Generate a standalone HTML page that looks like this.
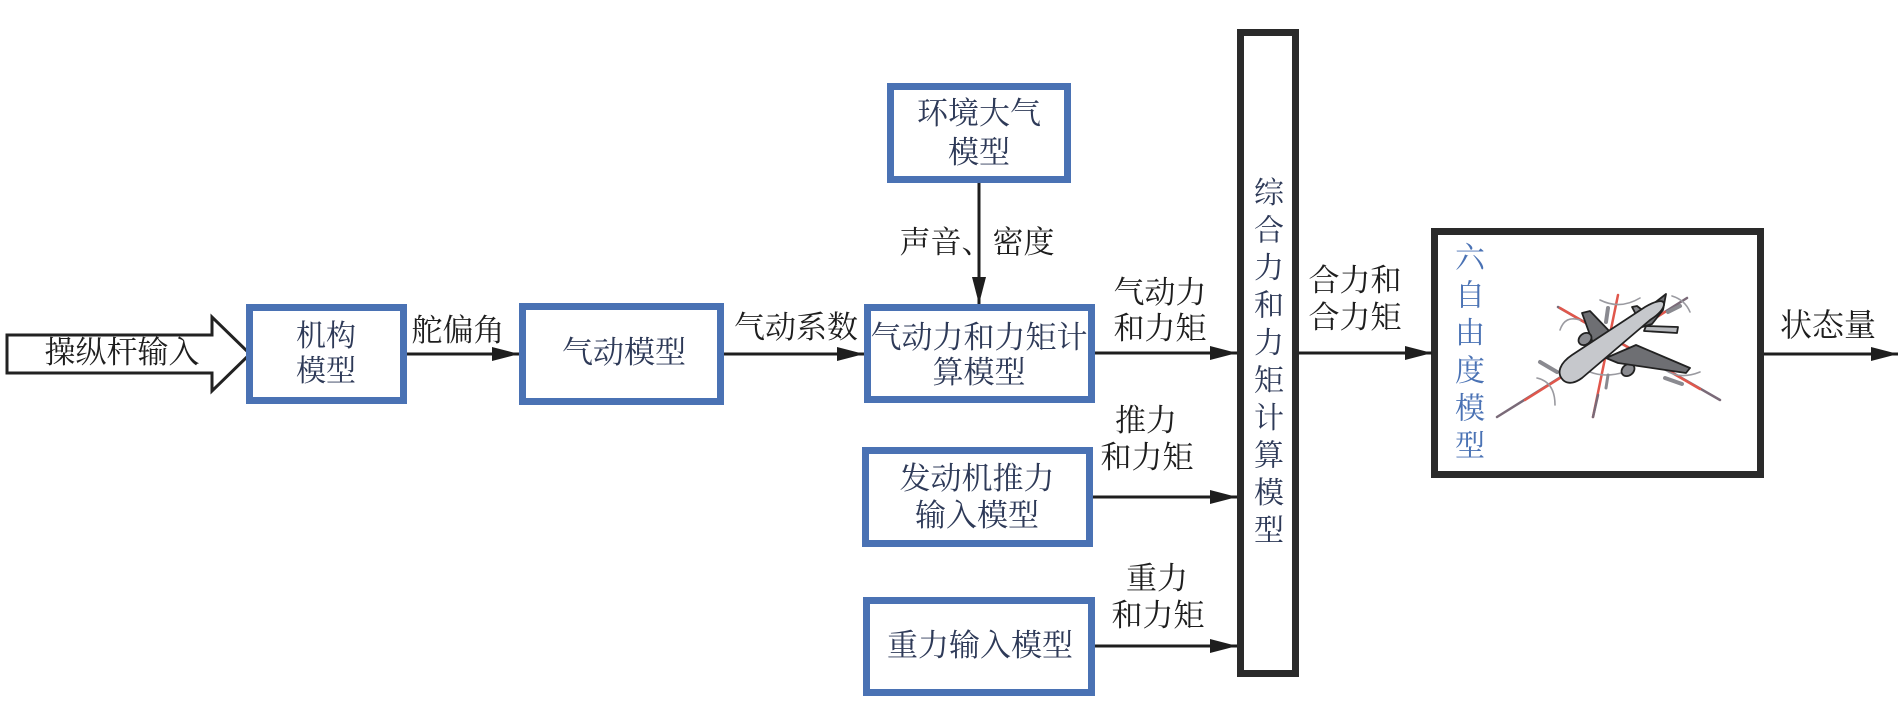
<!DOCTYPE html>
<html><head><meta charset="utf-8"><style>
html,body{margin:0;padding:0;background:#fff;}
svg{display:block;}
text{font-family:"Liberation Serif","Noto Serif CJK SC",serif;}
.n{fill:#2e3a58;}
.l{fill:#1e1e1e;}
</style></head><body>
<svg width="1901" height="724" viewBox="0 0 1901 724" xmlns="http://www.w3.org/2000/svg">
<rect width="1901" height="724" fill="#fff"/>
<defs>
<marker id="ah" markerWidth="27" markerHeight="14" refX="27" refY="7" orient="auto" markerUnits="userSpaceOnUse">
<path d="M0,0 L27,7 L0,14 Z" fill="#1e1e1e"/>
</marker>
</defs>

<!-- hollow input arrow -->
<path d="M7,335 L212,335 L212,317 L250,354 L212,391 L212,373 L7,373 Z" fill="#fff" stroke="#222" stroke-width="3" stroke-linejoin="miter"/>
<text x="122" y="363" font-size="31" text-anchor="middle" class="l">操纵杆输入</text>

<!-- blue boxes -->
<g fill="#fff" stroke="#4a72b4" stroke-width="7">
<rect x="249.5" y="307.5" width="154" height="93"/>
<rect x="522.5" y="306.5" width="198" height="95"/>
<rect x="890.5" y="86.5" width="177" height="93"/>
<rect x="867.5" y="307.5" width="224" height="92"/>
<rect x="865.5" y="450.5" width="224" height="93"/>
<rect x="866.5" y="600.5" width="225" height="92"/>
</g>
<!-- black boxes -->
<g fill="#fff" stroke="#2a2a2a" stroke-width="7">
<rect x="1240.5" y="32.5" width="55" height="641"/>
<rect x="1434.5" y="231.5" width="326" height="243"/>
</g>

<!-- arrows -->
<g stroke="#1e1e1e" stroke-width="3" fill="none" marker-end="url(#ah)">
<line x1="407" y1="354" x2="519" y2="354"/>
<line x1="724" y1="354" x2="864" y2="354"/>
<line x1="979" y1="183" x2="979" y2="304"/>
<line x1="1095" y1="353" x2="1237" y2="353"/>
<line x1="1093" y1="497" x2="1237" y2="497"/>
<line x1="1095" y1="646" x2="1237" y2="646"/>
<line x1="1299" y1="353" x2="1432" y2="353"/>
<line x1="1764" y1="354" x2="1898" y2="354"/>
</g>

<!-- box texts -->
<g class="n" text-anchor="middle">
<text x="326" y="346" font-size="30">机构</text>
<text x="326" y="381" font-size="30">模型</text>
<text x="624" y="363" font-size="31">气动模型</text>
<text x="979" y="124" font-size="31">环境大气</text>
<text x="979" y="163" font-size="31">模型</text>
<text x="979" y="348" font-size="31">气动力和力矩计</text>
<text x="979" y="383" font-size="31">算模型</text>
<text x="977" y="489" font-size="31">发动机推力</text>
<text x="977" y="526" font-size="31">输入模型</text>
<text x="980" y="656" font-size="31">重力输入模型</text>
</g>
<g class="n" text-anchor="middle" font-size="30">
<text x="1269" y="203">综</text>
<text x="1269" y="240.5">合</text>
<text x="1269" y="278">力</text>
<text x="1269" y="315.5">和</text>
<text x="1269" y="353">力</text>
<text x="1269" y="390.5">矩</text>
<text x="1269" y="428">计</text>
<text x="1269" y="465.5">算</text>
<text x="1269" y="503">模</text>
<text x="1269" y="540.5">型</text>
</g>
<g fill="#4a72b4" text-anchor="middle" font-size="30">
<text x="1470" y="268">六</text>
<text x="1470" y="305.6">自</text>
<text x="1470" y="343.2">由</text>
<text x="1470" y="380.8">度</text>
<text x="1470" y="418.4">模</text>
<text x="1470" y="456">型</text>
</g>

<!-- connector labels -->
<g class="l" text-anchor="middle">
<text x="458" y="341" font-size="31">舵偏角</text>
<text x="796" y="338" font-size="31">气动系数</text>
<text x="977" y="253" font-size="31">声音、密度</text>
<text x="1160" y="303" font-size="31">气动力</text>
<text x="1160" y="339" font-size="31">和力矩</text>
<text x="1146" y="431" font-size="31">推力</text>
<text x="1147" y="468" font-size="31">和力矩</text>
<text x="1157" y="589" font-size="31">重力</text>
<text x="1158" y="626" font-size="31">和力矩</text>
<text x="1355" y="291" font-size="31">合力和</text>
<text x="1355" y="328" font-size="31">合力矩</text>
<text x="1828" y="336" font-size="32">状态量</text>
</g>

<!-- airplane illustration -->
<g fill="none" stroke-linecap="round">
<line x1="1497" y1="417" x2="1687" y2="298" stroke="#7a6a78" stroke-width="2.5"/>
<line x1="1525" y1="400" x2="1665" y2="312" stroke="#e0574c" stroke-width="2.5"/>
<line x1="1558" y1="307" x2="1720" y2="400" stroke="#7a6a78" stroke-width="2.5"/>
<line x1="1560" y1="308" x2="1700" y2="389" stroke="#e0574c" stroke-width="2.5"/>
<line x1="1618" y1="295" x2="1593" y2="417" stroke="#e0574c" stroke-width="2.5"/>
<line x1="1598" y1="395" x2="1593" y2="417" stroke="#7a6a78" stroke-width="2.5"/>
<g stroke="#9a9aa0" stroke-width="1.6">
<path d="M1537,378 Q1555,382 1555,405"/>
<path d="M1580,320 Q1565,315 1560,330"/>
<path d="M1672,296 Q1685,300 1690,312"/>
<path d="M1590,372 Q1605,378 1625,372"/>
<path d="M1600,300 Q1620,310 1640,298"/>
<path d="M1665,370 Q1680,380 1700,372"/>
<path d="M1540,362 L1557,372" stroke="#8a8a90" stroke-width="4"/>
<path d="M1608,308 L1606,322" stroke="#8a8a90" stroke-width="4"/>
<path d="M1668,312 L1680,306" stroke="#8a8a90" stroke-width="4"/>
<path d="M1665,378 L1682,384" stroke="#8a8a90" stroke-width="4"/>
<path d="M1608,375 L1606,388" stroke="#8a8a90" stroke-width="3"/>
</g>
</g>
<g stroke="#222" stroke-width="1.8" stroke-linejoin="round">
<path d="M1594,346 L1582,313 L1590,311 L1614,336 Z" fill="#6e6f73"/>
<path d="M1640,322 L1632,307 L1637,306 L1650,316 Z" fill="#8a8b90"/>
<ellipse cx="1585" cy="339" rx="7" ry="5.5" fill="#8a8b90" transform="rotate(-38 1585 339)"/>
<ellipse cx="1628" cy="370" rx="7" ry="5.5" fill="#8a8b90" transform="rotate(-38 1628 370)"/>
<path d="M1606,358 L1636,345 L1690,368 L1686,373 L1618,363 Z" fill="#6e6f73"/>
<path d="M1632,330 L1648,308 L1666,294 L1663,310 L1652,324 Z" fill="#6e6f73"/>
<path d="M1563,380 C1556,373 1560,363 1572,355 L1645,307 C1655,301 1664,299 1664,304 C1664,309 1658,315 1650,320 L1582,378 C1574,384 1567,384 1563,380 Z" fill="#c6c8cc"/>
<path d="M1646,326 L1678,327 L1677,333 L1644,331 Z" fill="#b8babe"/>
</g>
</svg>
</body></html>
